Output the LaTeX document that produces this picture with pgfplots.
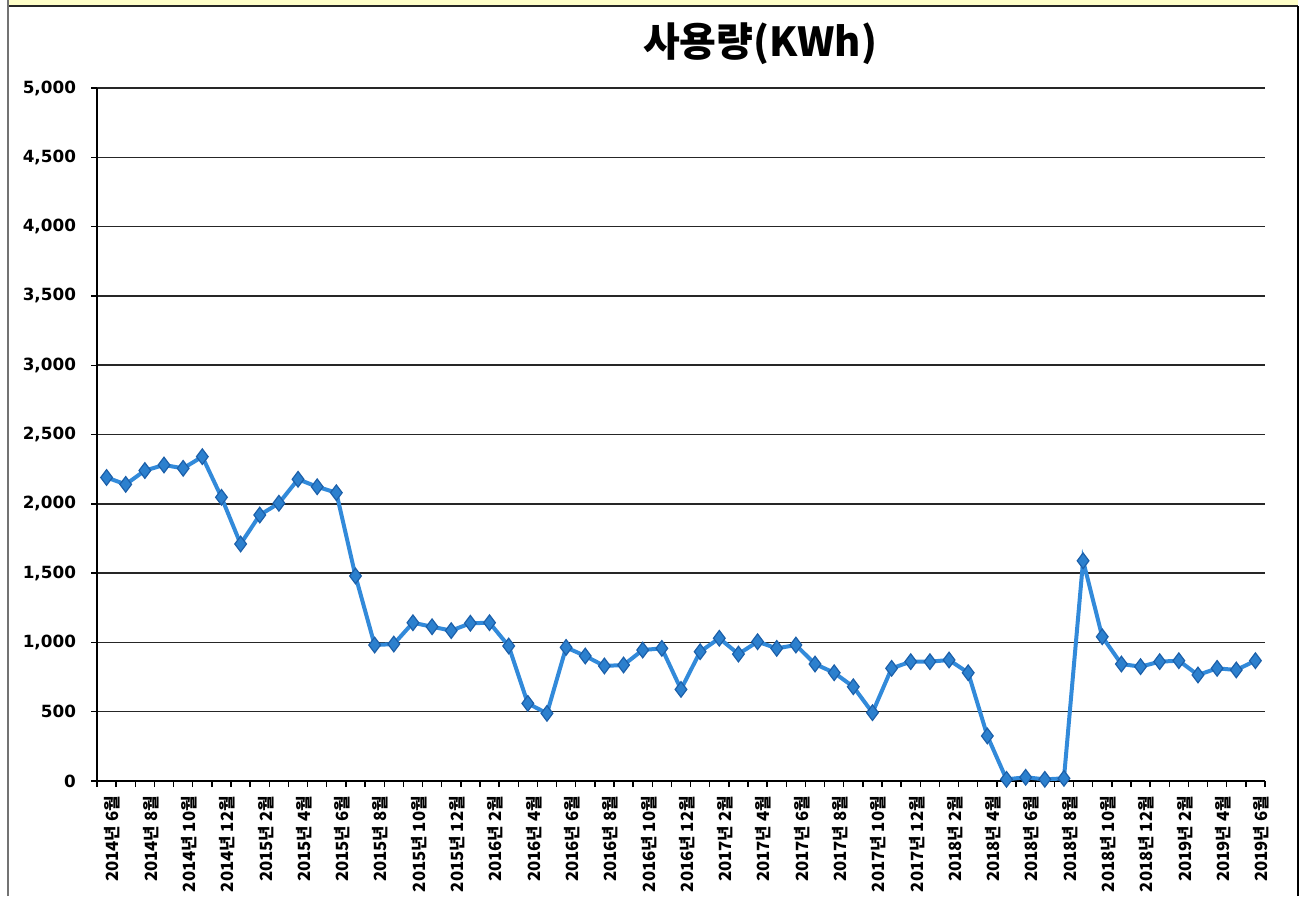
\documentclass[border=0pt]{standalone}
\usepackage{pgfplots}
\pgfplotsset{compat=1.18}
\usepackage{fontspec}
\setmainfont{Liberation Sans}
\newfontfamily\kr{Noto Sans CJK KR}
\newfontfamily\dv{DejaVu Sans}
\definecolor{lineblue}{RGB}{50,138,218}
\definecolor{markblue}{RGB}{44,128,206}
\definecolor{markedge}{RGB}{28,96,170}
\definecolor{hdr}{RGB}{255,255,200}
\pgfplotstableread{
x y
0 2190
1 2140
2 2240
3 2280
4 2256
5 2340
6 2047
7 1710
8 1919
9 2004
10 2177
11 2123
12 2080
13 1479
14 981
15 988
16 1142
17 1113
18 1085
19 1138
20 1142
21 974
22 560
23 488
24 964
25 902
26 830
27 837
28 945
29 957
30 661
31 933
32 1030
33 916
34 1005
35 957
36 981
37 844
38 781
39 680
40 493
41 813
42 861
43 861
44 873
45 781
46 325
47 12
48 27
49 12
50 19
51 1589
52 1041
53 844
54 825
55 861
56 868
57 765
58 813
59 801
60 868
}\usage
\begin{document}
\begin{tikzpicture}[x=0.5pt,y=0.5pt]
\useasboundingbox (0,0) rectangle (1307,896);
\fill[hdr] (8,896) rectangle (1298,890);
\draw[black!85,line width=0.8pt] (8,890) -- (1298,890);
\draw[black!55,line width=1pt] (8,0) -- (8,896);
\draw[black,line width=0.8pt] (1298,0) -- (1298,890);
\node[font=\kr\bfseries\fontsize{20}{24}\selectfont] at (760,852) {사용량(KWh)};
\begin{axis}[
  at={(48.5pt,57.5pt)}, anchor=south west,
  scale only axis,
  width=584pt, height=346.5pt,
  xmin=-0.5, xmax=60.5,
  ymin=0, ymax=5000,
  axis x line*=bottom, axis y line*=left,
  axis line style={black, line width=0.8pt},
  tick align=outside,
  major tick length=3pt,
  tick style={black, line width=0.7pt},
  ytick={0,500,...,5000},
  ymajorgrids,
  grid style={black!85, line width=0.75pt},
  /pgf/number format/1000 sep={,},
  /pgf/number format/assume math mode=true,
  yticklabel style={font=\dv\bfseries\fontsize{8.4}{10}\selectfont, xshift=-4pt},
  xtick={-0.5,0.5,...,60.5},
  xticklabels={},
  extra x ticks={0,2,...,60},
  extra x tick style={major tick length=0pt, grid=none,
    tick label style={rotate=90, anchor=east, font=\kr\bfseries\fontsize{8.4}{10}\selectfont, xshift=-4pt, yshift=-3pt}},
  extra x tick labels={2014년 6월,2014년 8월,2014년 10월,2014년 12월,
    2015년 2월,2015년 4월,2015년 6월,2015년 8월,2015년 10월,2015년 12월,
    2016년 2월,2016년 4월,2016년 6월,2016년 8월,2016년 10월,2016년 12월,
    2017년 2월,2017년 4월,2017년 6월,2017년 8월,2017년 10월,2017년 12월,
    2018년 2월,2018년 4월,2018년 6월,2018년 8월,2018년 10월,2018년 12월,
    2019년 2월,2019년 4월,2019년 6월},
  clip=false,
]
\addplot[color=lineblue, line width=2pt, mark=diamond*, mark size=3.9pt,
  mark options={fill=markblue, draw=markedge, line width=0.6pt}] table[x=x,y=y] {\usage};
\end{axis}
\end{tikzpicture}
\end{document}
